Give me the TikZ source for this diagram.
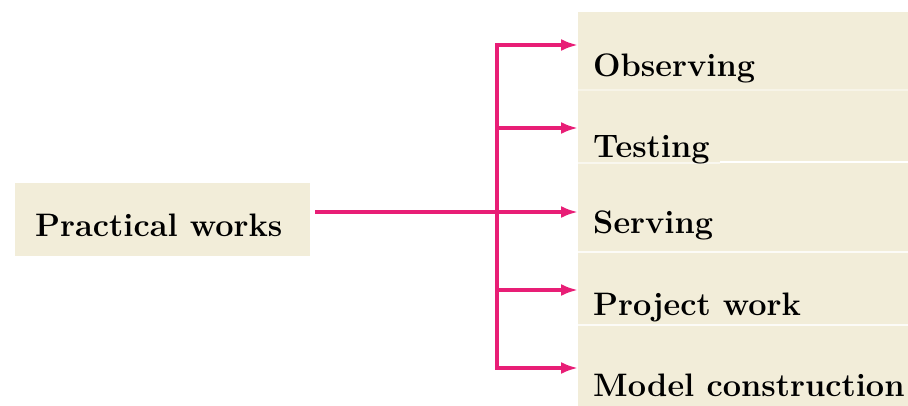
\documentclass[tikz,border=0pt]{standalone}
\usetikzlibrary{arrows.meta}
\definecolor{panelfill}{RGB}{242,237,217}
\definecolor{linkpink}{RGB}{232,30,118}
\tikzset{
  panel/.style={fill=panelfill, draw=none},
  lbl/.style={font=\fontsize{32.5}{38}\selectfont\bfseries, text=black, inner sep=0pt},
  link/.style={draw=linkpink, line width=3.2pt, line join=miter},
  tip/.style={-{Latex[length=17pt,width=12pt]}},
  sep/.style={draw=white, line width=2pt}
}
\begin{document}
\begin{tikzpicture}[x=1pt,y=-1pt]
\useasboundingbox (0,0) rectangle (908,406);

% shaded panel behind the list of activities
\fill[panel] (578,12) rectangle (908,406);
\draw[sep, opacity=0.4] (578,90) -- (908,90);
\draw[sep] (720,162) -- (908,162);
\draw[sep, opacity=0.6] (578,163) -- (720,163);
\draw[sep, opacity=0.8] (578,252) -- (908,252);
\draw[sep, opacity=0.8] (578,325) -- (908,325);

% source box
\node[panel, minimum width=295pt, minimum height=73pt, inner sep=0pt] (pwbox) at (162.5,219.5) {};
\node[lbl, anchor=base west] (pw) at (35,237) {Practical works};

% activity labels
\node[lbl, anchor=base west] (obs) at (593,77) {Observing};
\node[lbl, anchor=base west] (tst) at (593,158) {Testing};
\node[lbl, anchor=base west] (srv) at (593,234) {Serving};
\node[lbl, anchor=base west] (prj) at (593,316) {Project work};
\node[lbl, anchor=base west] (mdl) at (593,396) {Model construction};

% arrow tips and branch points on the vertical bus
\coordinate (t1) at (578,45);
\coordinate (t2) at (578,128);
\coordinate (t3) at (578,212);
\coordinate (t4) at (578,290);
\coordinate (t5) at (578,368);
\coordinate (b1) at (497,45);
\coordinate (b2) at (497,128);
\coordinate (b4) at (497,290);
\coordinate (b5) at (497,368);
\coordinate (src) at ([xshift=5pt]pwbox.east |- t3);

% connectors
\draw[link, {Latex[length=17pt,width=12pt]}-{Latex[length=17pt,width=12pt]}] (t1) -- (b1) -- (b5) -- (t5);
\draw[link, tip] (b2) -- (t2);
\draw[link, tip] (src) -- (t3);
\draw[link, tip] (b4) -- (t4);
\end{tikzpicture}
\end{document}
